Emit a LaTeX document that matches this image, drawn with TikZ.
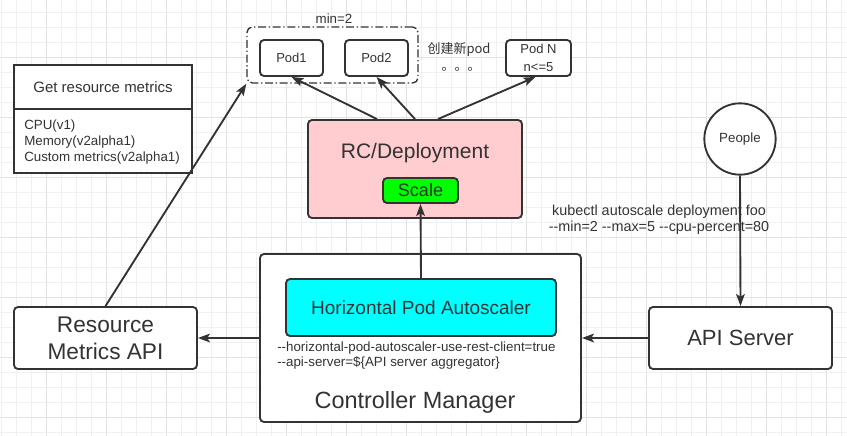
\documentclass[tikz,border=0pt]{standalone}
\usepackage{fontspec}
\setmainfont{Liberation Sans}
\newfontfamily\cjk{Noto Sans CJK SC}
\usetikzlibrary{arrows.meta,calc}
\definecolor{ink}{RGB}{51,51,51}
\definecolor{gridminor}{RGB}{240,240,240}
\definecolor{gridmajor}{RGB}{226,226,226}
\definecolor{rcpink}{RGB}{255,204,208}
\definecolor{scalegreen}{RGB}{0,255,0}
\definecolor{hpacyan}{RGB}{0,255,255}
\tikzset{
  gridl/.style={draw=gridminor,line width=0.75pt},
  gridM/.style={draw=gridmajor,line width=0.75pt},
  box/.style={draw=ink,fill=white,line width=1.4pt,rounded corners=3pt,inner sep=0pt,text=ink},
  sharpbox/.style={draw=ink,fill=white,line width=1.4pt,inner sep=0pt},
  lbl/.style={text=ink,inner sep=0pt},
  conn/.style={draw=ink,line width=1.4pt,-{Stealth[length=9pt,width=6.5pt,inset=2pt]}},
  grpbox/.style={draw=ink,fill=white,line width=1pt,rounded corners=4pt,dash pattern=on 6pt off 2pt on 1pt off 2pt,inner sep=0pt},
}
\begin{document}
\begin{tikzpicture}[x=0.75pt,y=-0.75pt]
\useasboundingbox (0,0) rectangle (847,436);
\fill[white] (0,0) rectangle (847,436);
% background grid
\foreach \gx in {1,16,...,846} \draw[gridl] (\gx,0) -- (\gx,436);
\foreach \gy in {12,27,...,432} \draw[gridl] (0,\gy) -- (847,\gy);
\foreach \gx in {46,106,...,826} \draw[gridM] (\gx,0) -- (\gx,436);
\foreach \gy in {57,117,...,417} \draw[gridM] (0,\gy) -- (847,\gy);

% pods group
\node[grpbox,minimum width=128.25pt,minimum height=42pt] (grp) at (332.5,55) {};
\node[lbl,font=\fontsize{10}{12}\selectfont] (minlbl) at (334,19) {min=2};
\node[box,minimum width=47.25pt,minimum height=27pt,font=\fontsize{9.75}{12}\selectfont] (pod1) at (291.5,58) {Pod1};
\node[box,minimum width=47.25pt,minimum height=27pt,font=\fontsize{9.75}{12}\selectfont] (pod2) at (376.5,58) {Pod2};
\node[box,minimum width=48.75pt,minimum height=27pt,font=\fontsize{9.75}{13}\selectfont,align=center] (podN) at (538.5,58) {Pod N\\n<=5};
\node[lbl,font=\cjk\fontsize{9.75}{12}\selectfont] (newpod) at (459,49) {创建新pod};
\node[lbl,font=\cjk\fontsize{9.75}{12}\selectfont] (dots) at (461,69) {。。。};

% RC / Deployment
\node[box,fill=rcpink,minimum width=160.5pt,minimum height=73.5pt] (rc) at (415,169) {};
\node[lbl,font=\fontsize{15.75}{18}\selectfont] (rclbl) at (415,153) {RC/Deployment};
\node[box,fill=scalegreen,minimum width=56.25pt,minimum height=18.75pt,font=\fontsize{13.5}{15}\selectfont] (scale) at (420.5,190.5) {Scale};

% Get resource metrics
\node[sharpbox,minimum width=133.5pt,minimum height=81pt] (grm) at (103,119) {};
\draw[draw=ink,line width=1.4pt] ($(grm.north west)+(0,45)$) -- ($(grm.north east)+(0,45)$);
\node[lbl,font=\fontsize{11.25}{13}\selectfont] (grmtitle) at (103,87.5) {Get resource metrics};
\node[lbl,anchor=west,align=left,font=\fontsize{10}{11.9}\selectfont] (grmlist) at (24,142.3) {CPU(v1)\\Memory(v2alpha1)\\Custom metrics(v2alpha1)};

% Controller manager
\node[box,minimum width=240.75pt,minimum height=126pt] (cm) at (420.5,338) {};
\node[box,fill=hpacyan,minimum width=202.5pt,minimum height=42.75pt,font=\fontsize{14.25}{16}\selectfont] (hpa) at (421,307.5) {Horizontal Pod Autoscaler};
\node[lbl,anchor=west,align=left,font=\fontsize{10}{11}\selectfont] (flags) at (277,355.3) {-{}-horizontal-pod-autoscaler-use-rest-client=true\\-{}-api-server=\$\{API server aggregator\}};
\node[lbl,font=\fontsize{17.6}{20}\selectfont] (cmlbl) at (415,402) {Controller Manager};

% Resource Metrics API
\node[box,minimum width=137.25pt,minimum height=46.5pt,align=center,font=\fontsize{17}{20}\selectfont] (rma) at (105.5,338) {Resource\\Metrics API};

% API server and people
\node[box,minimum width=137.25pt,minimum height=46.5pt,font=\fontsize{16.5}{19}\selectfont] (api) at (740.5,338) {API Server};
\node[box,circle,minimum size=53.5pt,font=\fontsize{10}{12}\selectfont] (people) at (740,139) {People};

% connectors
\draw[conn] ($(rc.north)+(-38,0)$) -- (pod1.south);
\draw[conn] (rc.north) -- (pod2.south);
\draw[conn] ($(rc.north)+(23,0)$) -- ($(podN.south)+(-3,0)$);
\draw[conn] (hpa.north) -- (scale.south);
\draw[conn] (rma.north) -- (grp.south west);
\draw[conn] (people.south) -- (api.north);
\draw[conn] (api.west) -- (cm.east);
\draw[conn] (cm.west) -- (rma.east);

\node[lbl,align=center,font=\fontsize{10.8}{12}\selectfont] (kubectl) at (659,220) {kubectl autoscale deployment foo\\-{}-min=2 -{}-max=5 -{}-cpu-percent=80};
\end{tikzpicture}
\end{document}
